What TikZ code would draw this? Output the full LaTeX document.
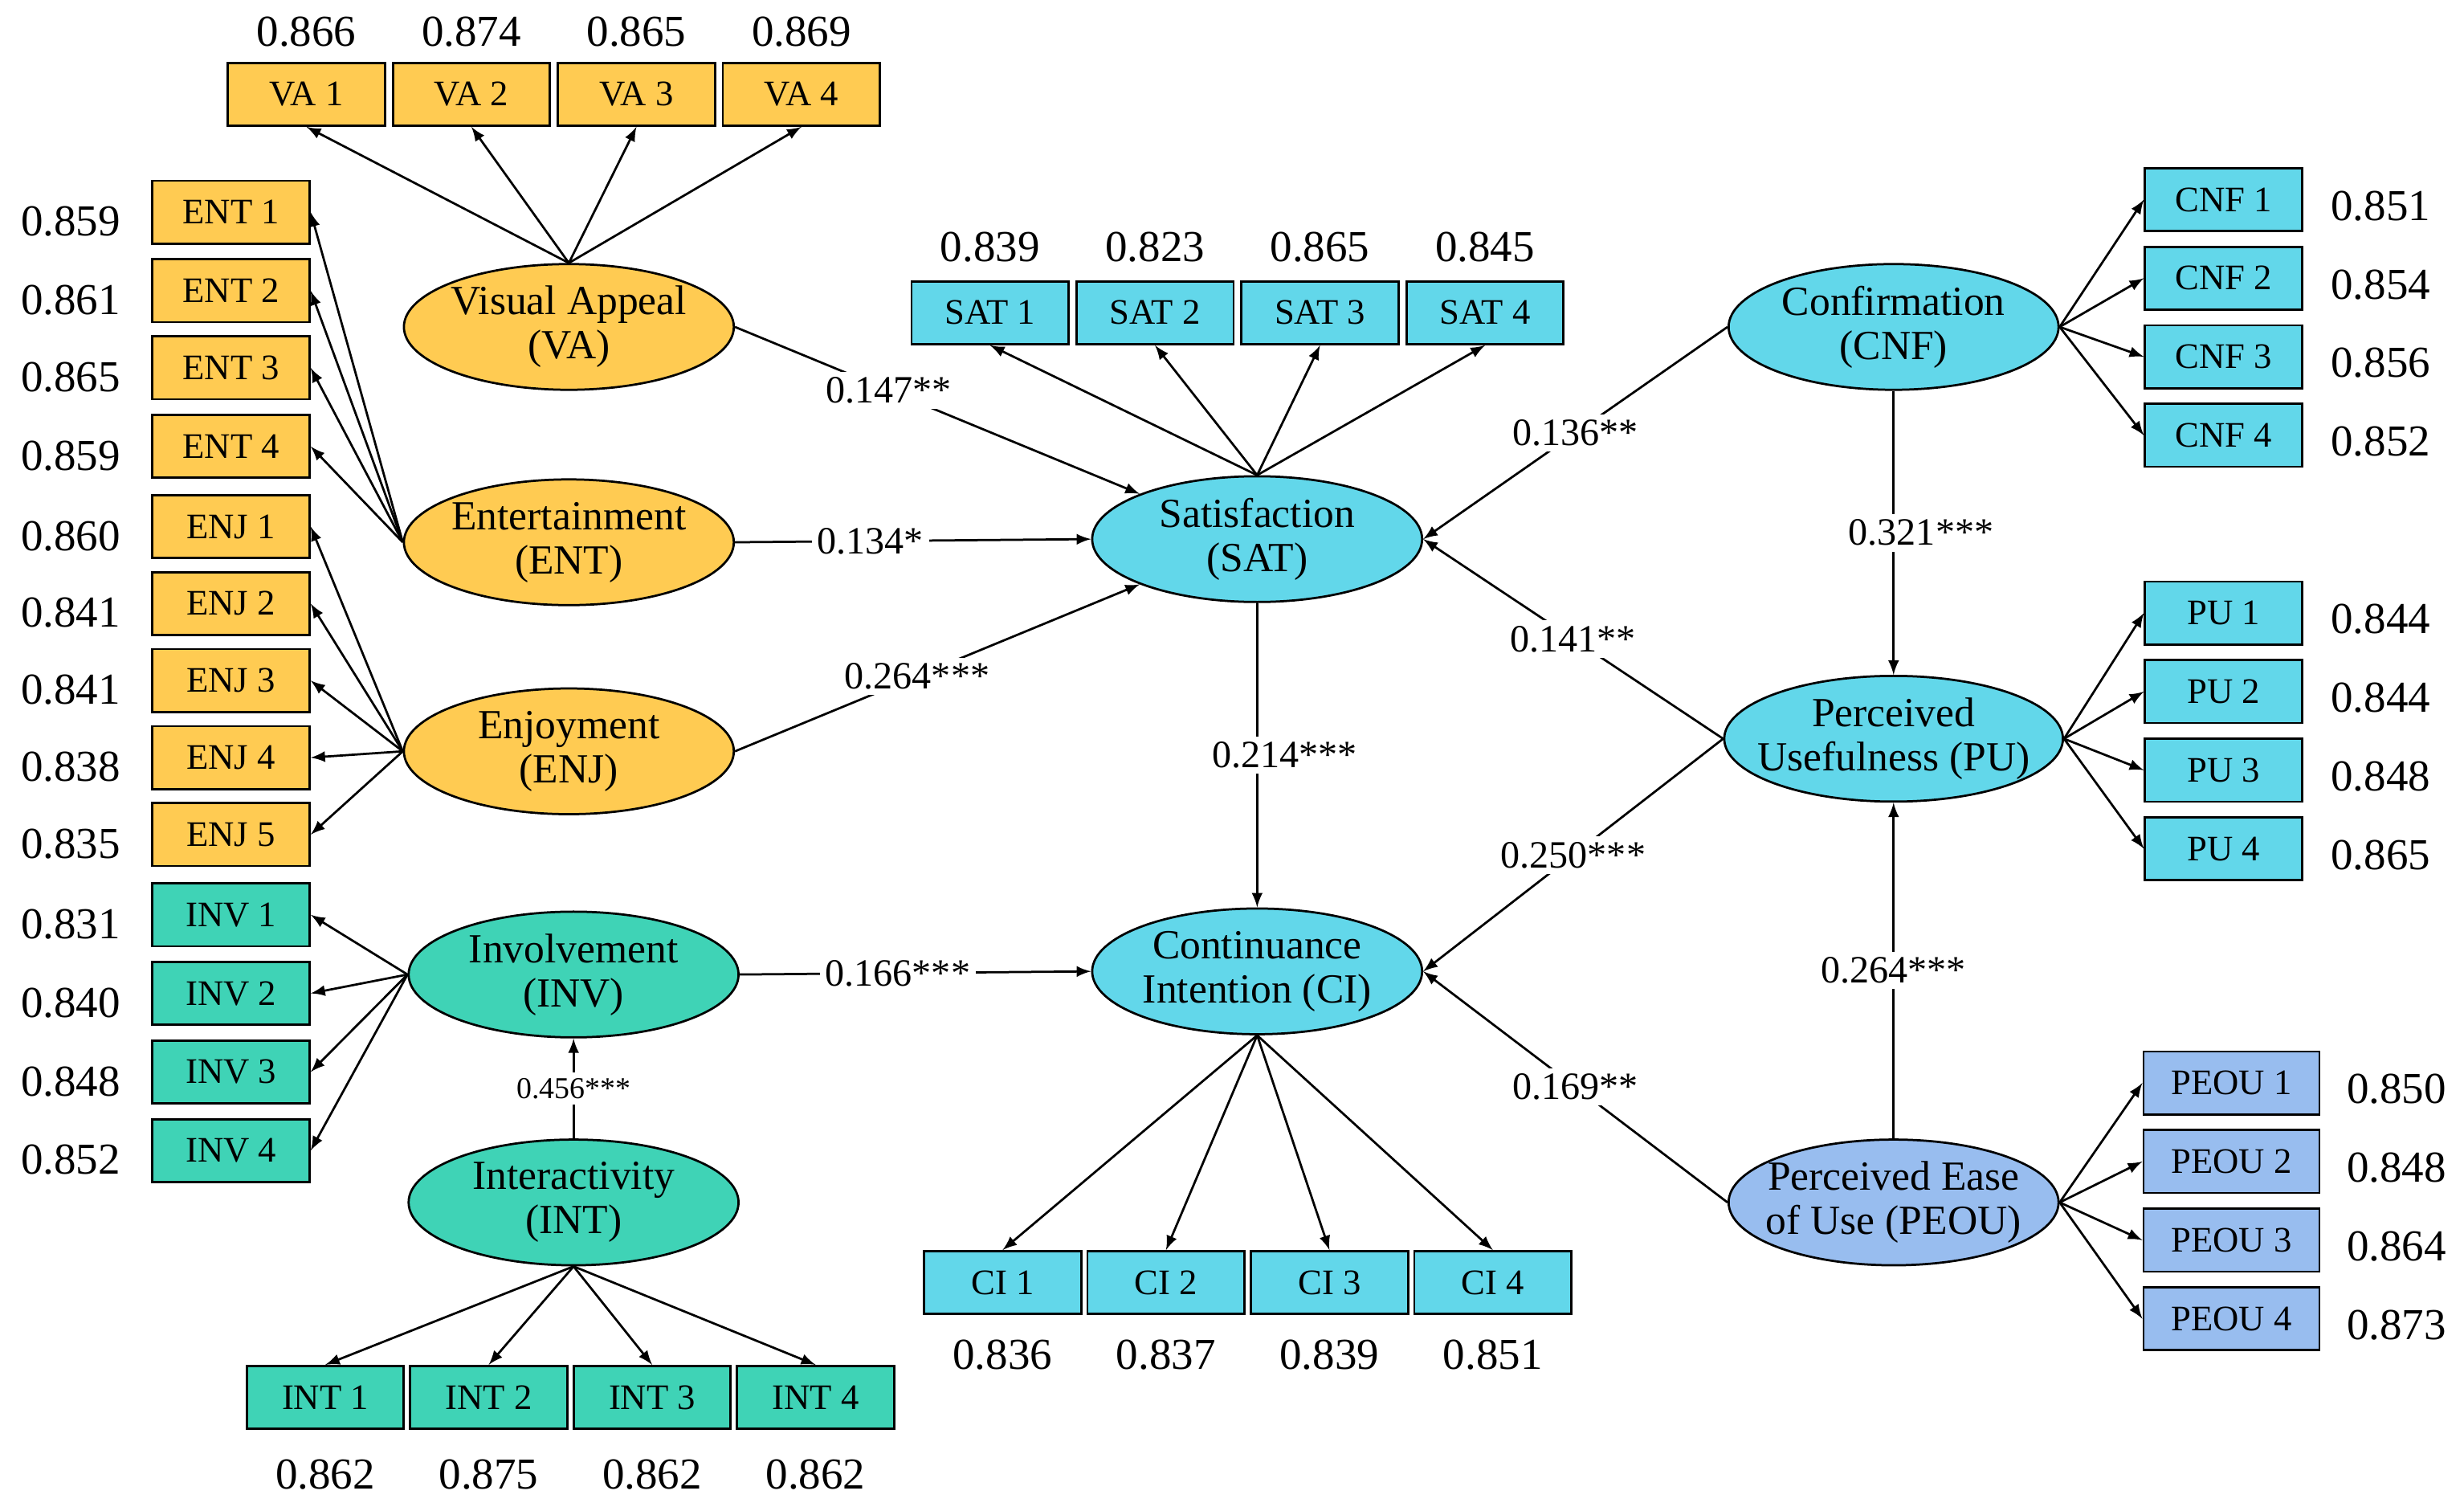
\documentclass[tikz,border=0pt]{standalone}
\usepackage{fontspec}
\setmainfont{Liberation Serif}
\usetikzlibrary{arrows,shapes.geometric,positioning}
\definecolor{vaC}{HTML}{FFCB52}
\definecolor{satC}{HTML}{62D7EA}
\definecolor{invC}{HTML}{3FD3B6}
\definecolor{peouC}{HTML}{98BDEF}
\begin{document}
\begin{tikzpicture}[x=0.02cm,y=-0.02cm,
	ind/.style={draw,rectangle,minimum width=2cm,minimum height=0.8cm,inner sep=1pt,font=\fontsize{13}{15}\selectfont},
	lat/.style={draw,ellipse,minimum width=4.2cm,minimum height=1.6cm,inner xsep=-6pt,inner ysep=0pt,align=center,font=\fontsize{15}{16}\selectfont},
	val/.style={font=\fontsize{16}{18}\selectfont},
	lbl/.style={fill=white,inner sep=2pt,font=\fontsize{14}{16}\selectfont},
	arr/.style={-latex,thick},
	every path/.style={thick}]
	\useasboundingbox (0,0) rectangle (1568,956);
	% latent constructs
	\node[lat,fill=vaC] (va) at (362,208) {Visual Appeal\\(VA)};
	\node[lat,fill=vaC] (ent) at (362,345) {Entertainment\\(ENT)};
	\node[lat,fill=vaC] (enj) at (362,478) {Enjoyment\\(ENJ)};
	\node[lat,fill=invC] (inv) at (365,620) {Involvement\\(INV)};
	\node[lat,fill=invC] (int) at (365,765) {Interactivity\\(INT)};
	\node[lat,fill=satC] (sat) at (800,343) {Satisfaction\\(SAT)};
	\node[lat,fill=satC] (ci) at (800,618) {Continuance\\Intention (CI)};
	\node[lat,fill=satC] (cnf) at (1205,208) {Confirmation\\(CNF)};
	\node[lat,fill=satC] (pu) at (1205,470) {Perceived\\Usefulness (PU)};
	\node[lat,fill=peouC] (peou) at (1205,765) {Perceived Ease\\of Use (PEOU)};

	% indicators
	\foreach \i/\x/\v in {1/195/0.866,2/300/0.874,3/405/0.865,4/510/0.869}{
		\node[ind,fill=vaC] (va\i) at (\x,60) {VA \i};
		\node[val] (vav\i) at (\x,20) {\v};
		\draw[arr] (va.north) -- (va\i.south);}
	\foreach \i/\y/\v in {1/135/0.859,2/185/0.861,3/234/0.865,4/284/0.859}{
		\node[ind,fill=vaC] (ent\i) at (147,\y) {ENT \i};
		\node[val] (entv\i) at (45,\y+6) {\v};
		\draw[arr] (ent.west) -- (ent\i.east);}
	\foreach \i/\y/\v in {1/335/0.860,2/384/0.841,3/433/0.841,4/482/0.838,5/531/0.835}{
		\node[ind,fill=vaC] (enj\i) at (147,\y) {ENJ \i};
		\node[val] (enjv\i) at (45,\y+6) {\v};
		\draw[arr] (enj.west) -- (enj\i.east);}
	\foreach \i/\y/\v in {1/582/0.831,2/632/0.840,3/682/0.848,4/732/0.852}{
		\node[ind,fill=invC] (inv\i) at (147,\y) {INV \i};
		\node[val] (invv\i) at (45,\y+6) {\v};
		\draw[arr] (inv.west) -- (inv\i.east);}
	\foreach \i/\x/\v in {1/207/0.862,2/311/0.875,3/415/0.862,4/519/0.862}{
		\node[ind,fill=invC] (int\i) at (\x,889) {INT \i};
		\node[val] (intv\i) at (\x,938) {\v};
		\draw[arr] (int.south) -- (int\i.north);}
	\foreach \i/\x/\v in {1/630/0.839,2/735/0.823,3/840/0.865,4/945/0.845}{
		\node[ind,fill=satC] (sat\i) at (\x,199) {SAT \i};
		\node[val] (satv\i) at (\x,157) {\v};
		\draw[arr] (sat.north) -- (sat\i.south);}
	\foreach \i/\x/\v in {1/638/0.836,2/742/0.837,3/846/0.839,4/950/0.851}{
		\node[ind,fill=satC] (ci\i) at (\x,816) {CI \i};
		\node[val] (civ\i) at (\x,862) {\v};
		\draw[arr] (ci.south) -- (ci\i.north);}
	\foreach \i/\y/\v in {1/127/0.851,2/177/0.854,3/227/0.856,4/277/0.852}{
		\node[ind,fill=satC] (cnf\i) at (1415,\y) {CNF \i};
		\node[val] (cnfv\i) at (1515,\y+4) {\v};
		\draw[arr] (cnf.east) -- (cnf\i.west);}
	\foreach \i/\y/\v in {1/390/0.844,2/440/0.844,3/490/0.848,4/540/0.865}{
		\node[ind,fill=satC] (pu\i) at (1415,\y) {PU \i};
		\node[val] (puv\i) at (1515,\y+4) {\v};
		\draw[arr] (pu.east) -- (pu\i.west);}
	\foreach \i/\y/\v in {1/689/0.850,2/739/0.848,3/789/0.864,4/839/0.873}{
		\node[ind,fill=peouC,minimum width=2.24cm] (peou\i) at (1420,\y) {PEOU \i};
		\node[val] (peouv\i) at (1525,\y+4) {\v};
		\draw[arr] (peou.east) -- (peou\i.west);}

	% structural paths
	\draw[arr] (va.east) -- node[lbl,pos=0.38]{0.147**} (sat.north west);
	\draw[arr] (ent.east) -- node[lbl,pos=0.38]{0.134*} (sat.west);
	\draw[arr] (enj.east) -- node[lbl,pos=0.45]{0.264***} (sat.south west);
	\draw[arr] (inv.east) -- node[lbl,pos=0.45]{0.166***} (ci.west);
	\draw[arr] (int.north) -- node[lbl,font=\fontsize{11}{12}\selectfont]{0.456***} (inv.south);
	\draw[arr] (sat.south) -- node[lbl,xshift=0.35cm]{0.214***} (ci.north);
	\draw[arr] (cnf.west) -- node[lbl,pos=0.5]{0.136**} (sat.east);
	\draw[arr] (pu.west) -- node[lbl,pos=0.5]{0.141**} (sat.east);
	\draw[arr] (pu.west) -- node[lbl,pos=0.5]{0.250***} (ci.east);
	\draw[arr] (peou.west) -- node[lbl,pos=0.5]{0.169**} (ci.east);
	\draw[arr] (cnf.south) -- node[lbl,xshift=0.35cm]{0.321***} (pu.north);
	\draw[arr] (peou.north) -- node[lbl]{0.264***} (pu.south);
\end{tikzpicture}
\end{document}
